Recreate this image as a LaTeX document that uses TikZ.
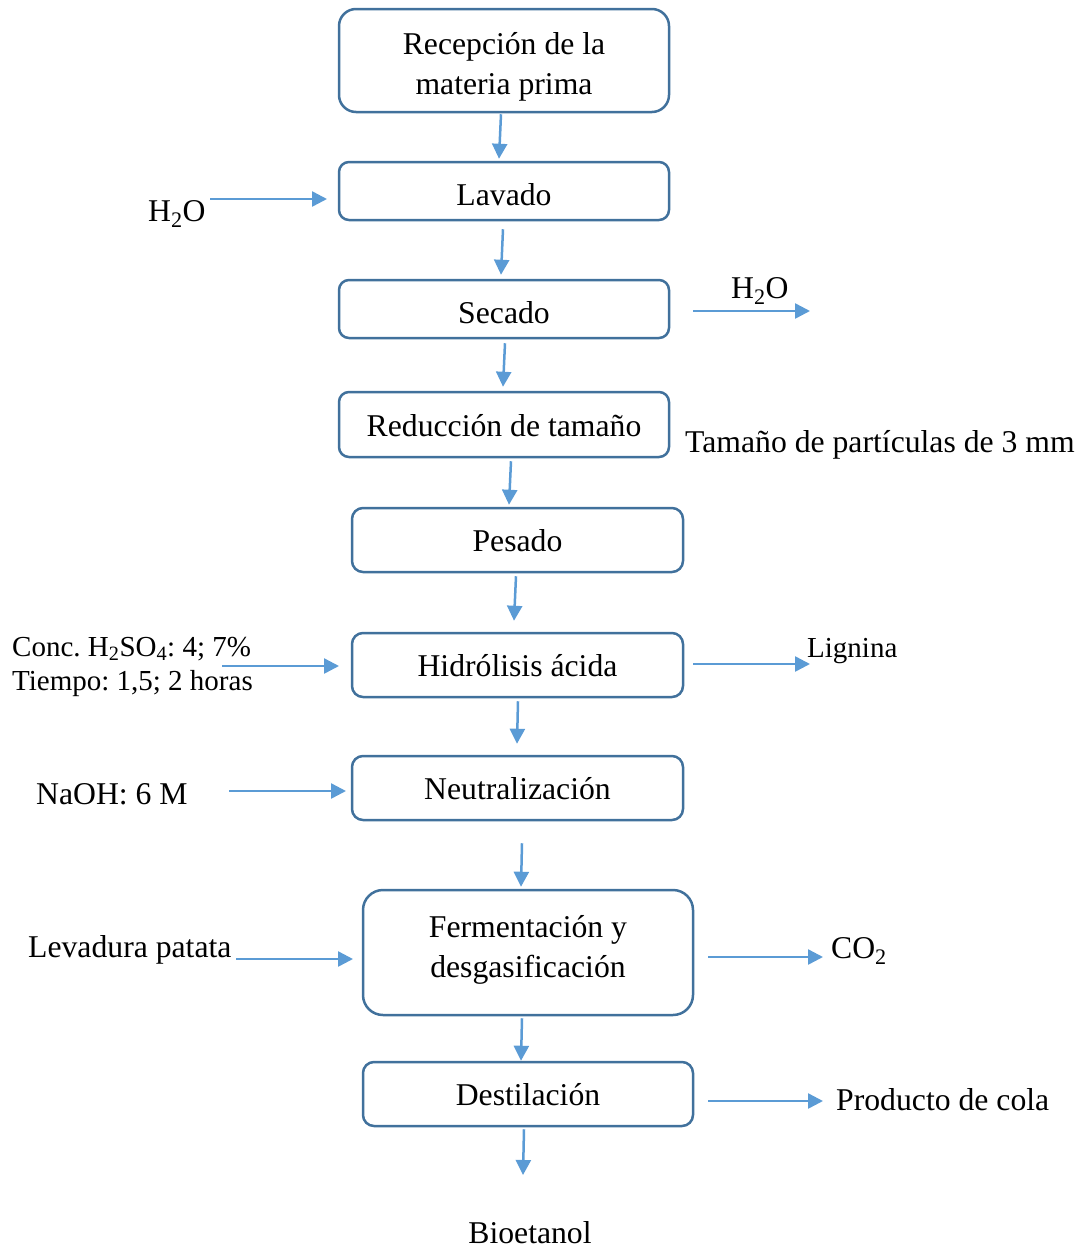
\documentclass[tikz,border=0pt]{standalone}
\usepackage{fontspec}
\setmainfont{Liberation Serif}
\usetikzlibrary{arrows.meta}
\frenchspacing
\definecolor{boxc}{HTML}{41719C}
\definecolor{arrc}{HTML}{5B9BD5}
\newcommand\fsBig{\fontsize{31.7}{40}\selectfont}
\newcommand\fsMid{\fontsize{29}{34}\selectfont}
\tikzset{
  boxbase/.style={draw=boxc, line width=2.5pt, rounded corners=#1, inner sep=0pt,
    font=\fsBig, align=center},
  boxbase/.default=10pt,
  stepbox/.style={boxbase=#1, text height=30pt, text depth=7pt},
  stepbox/.default=10pt,
  arr/.style={draw=arrc, line width=2.5pt, -{Triangle[length=15pt,width=15pt]}},
  lbl/.style={font=\fsBig, inner sep=0pt},
  lblm/.style={font=\fsMid, inner sep=0pt},
}
\begin{document}
\begin{tikzpicture}[x=1pt,y=-1pt]
\useasboundingbox (0,0) rectangle (1085,1250);
% boxes
\node[boxbase=17pt, minimum width=330pt, minimum height=103pt] (b1) at (504,60.5) {\rule{0pt}{34pt}Recepción de la\\materia prima};
\node[stepbox, text height=36pt, minimum width=330pt, minimum height=58pt] (b2) at (504,191) {Lavado};
\node[stepbox, text height=36pt, minimum width=330pt, minimum height=58pt] (b3) at (504,309) {Secado};
\node[stepbox, minimum width=330pt, minimum height=65pt] (b4) at (504,424.5) {Reducción de tamaño};
\node[stepbox=11pt, minimum width=331pt, minimum height=64pt] (b5) at (517.5,540) {Pesado};
\node[stepbox=11pt, minimum width=331pt, minimum height=64pt] (b6) at (517.5,665) {Hidrólisis ácida};
\node[stepbox=11pt, minimum width=331pt, minimum height=64pt] (b7) at (517.5,788) {Neutralización};
\node[boxbase=20pt, minimum width=330pt, minimum height=125pt] (b8) at (528,952.5) {Fermentación y\\desgasificación\rule[-13pt]{0pt}{1pt}};
\node[stepbox=11pt, minimum width=330pt, minimum height=64pt] (b9) at (528,1094) {Destilación};
% labels
\node[lbl, anchor=base west] (h2oin) at (148,221) {H\textsubscript{2}O};
\node[lbl, anchor=base west] (h2oout) at (731,298) {H\textsubscript{2}O};
\node[lbl, anchor=base west] (tam) at (685,452) {Tamaño de partículas de 3 mm};
\node[lblm, anchor=base west] (conc) at (12,656) {Conc. H\textsubscript{2}SO\textsubscript{4}: 4; 7\%};
\node[lblm, anchor=base west] (tiempo) at (12,690) {Tiempo: 1,5; 2 horas};
\node[lblm, anchor=base west] (lig) at (807,657) {Lignina};
\node[lbl, anchor=base west] (naoh) at (36,804) {NaOH: 6 M};
\node[lbl, anchor=base west] (lev) at (28,957) {Levadura patata};
\node[lbl, anchor=base west] (co2) at (831,958) {CO\textsubscript{2}};
\node[lbl, anchor=base west] (cola) at (836,1110) {Producto de cola};
\node[lbl, anchor=base] (bio) at (530,1243) {Bioetanol};
% free-end coordinates
\coordinate (h2oinA) at (210,199);
\coordinate (h2oinB) at (327,199);
\coordinate (h2ooutA) at (693,311);
\coordinate (h2ooutB) at (810,311);
\coordinate (concA) at (222,666);
\coordinate (concB) at (339,666);
\coordinate (ligA) at (693,664);
\coordinate (ligB) at (810,664);
\coordinate (naohA) at (229,791);
\coordinate (naohB) at (346,791);
\coordinate (levA) at (236,959);
\coordinate (levB) at (353,959);
\coordinate (co2A) at (708,957);
\coordinate (co2B) at (823,957);
\coordinate (colaA) at (708,1101);
\coordinate (colaB) at (823,1101);
\coordinate (bioA) at (523,1175);
% vertical connectors
\draw[arr] ([xshift=-3pt,yshift=-1pt]b1.south) -- ([xshift=-5pt,yshift=2pt]b2.north);
\draw[arr] ([xshift=-1pt,yshift=-8pt]b2.south) -- ([xshift=-3pt,yshift=4pt]b3.north);
\draw[arr] ([xshift=1pt,yshift=-4pt]b3.south) -- ([xshift=-1pt,yshift=4pt]b4.north);
\draw[arr] ([xshift=7pt,yshift=-3pt]b4.south) -- ([xshift=-8.5pt,yshift=2pt]b5.north);
\draw[arr] ([xshift=-1.5pt,yshift=-3pt]b5.south) -- ([xshift=-3.5pt,yshift=11pt]b6.north);
\draw[arr] ([xshift=0.5pt,yshift=-3pt]b6.south) -- ([xshift=-0.5pt,yshift=11pt]b7.north);
\draw[arr] ([xshift=4.5pt,yshift=-22pt]b7.south) -- ([xshift=-7pt,yshift=2pt]b8.north);
\draw[arr] ([xshift=-6pt,yshift=-2pt]b8.south) -- ([xshift=-7pt,yshift=0pt]b9.north);
\draw[arr] ([xshift=-4pt,yshift=-2pt]b9.south) -- (bioA);
% side connectors
\draw[arr] (h2oinA) -- (h2oinB);
\draw[arr] (h2ooutA) -- (h2ooutB);
\draw[arr] (concA) -- (concB);
\draw[arr] (ligA) -- (ligB);
\draw[arr] (naohA) -- (naohB);
\draw[arr] (levA) -- (levB);
\draw[arr] (co2A) -- (co2B);
\draw[arr] (colaA) -- (colaB);
\end{tikzpicture}
\end{document}
